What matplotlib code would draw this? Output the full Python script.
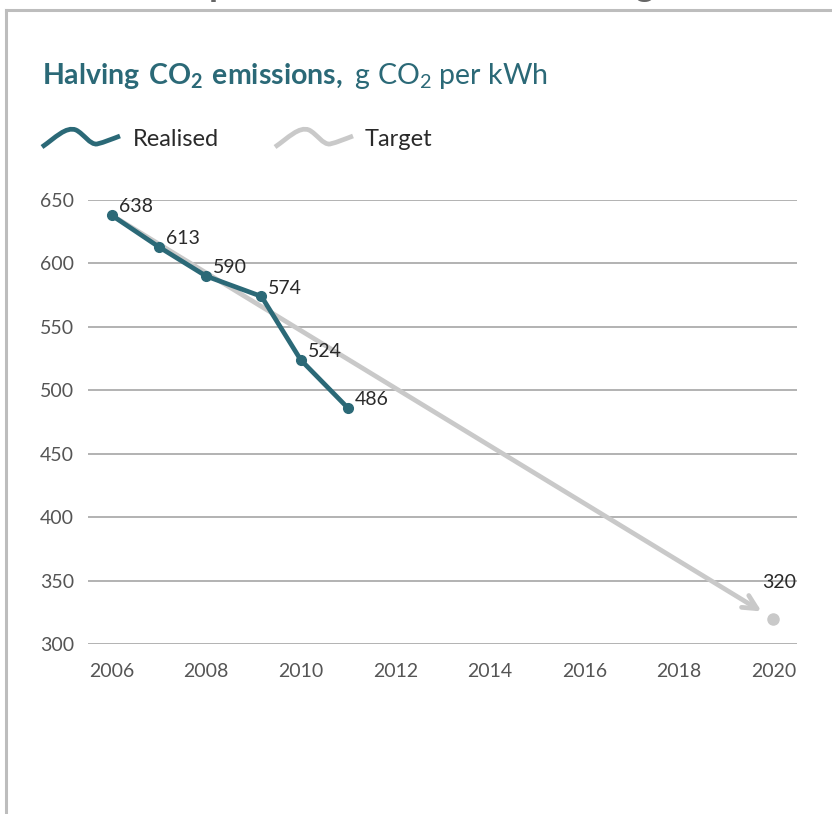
import matplotlib
matplotlib.use("Agg")
import matplotlib.pyplot as plt
import matplotlib.lines as mlines
from matplotlib.path import Path
from matplotlib.patches import PathPatch

# realised emissions, g CO2 per kWh
real_years = [2006, 2007, 2008, 2009.17, 2010, 2011]
real_values = [638, 613, 590, 574, 524, 486]

# straight-line target path
target_years = [2006, 2020]
target_values = [638, 320]

x_ticks = [2006, 2008, 2010, 2012, 2014, 2016, 2018, 2020]
y_ticks = [300, 350, 400, 450, 500, 550, 600, 650]

TEAL = "#2b6977"
GREY = "#c9c9c9"
INK = "#2a2a2a"

plt.rcParams["font.family"] = ["Lato", "DejaVu Sans"]
plt.rcParams["mathtext.fontset"] = "custom"
plt.rcParams["mathtext.rm"] = "Lato"
plt.rcParams["mathtext.bf"] = "Lato:bold"


def create_plot():
    fig = plt.figure(figsize=(8.32, 8.14), dpi=100)
    W, H = 832, 814

    def fx(px):
        return px / W

    def fy(py):
        return 1 - py / H

    def wave(dx, color):
        # little curved swatch for the legend
        pts = [(42, 147), (55, 138), (66, 126), (76, 130),
               (84, 134), (90, 145), (97, 144),
               (105, 142), (112, 139), (120, 136)]
        codes = [Path.MOVETO] + [Path.CURVE4] * 9
        verts = [(fx(x + dx), fy(y)) for x, y in pts]
        fig.add_artist(PathPatch(Path(verts, codes), fill=False, edgecolor=color,
                                 lw=3.4, capstyle="butt", transform=fig.transFigure))

    # panel frame
    fig.add_artist(mlines.Line2D([fx(6), 1], [fy(10), fy(10)], color="#bdbdbd", lw=2.2))
    fig.add_artist(mlines.Line2D([fx(6), fx(6)], [fy(10), 0], color="#bdbdbd", lw=2.2))
    # heading from the panel above, cut by the frame
    fig.text(fx(230), fy(-4), "Deep", ha="right", va="baseline", fontsize=26,
             fontweight="bold", color="#666666")
    fig.text(fx(655), fy(-4), "halving", ha="right", va="baseline", fontsize=26,
             fontweight="bold", color="#666666")

    fig.text(fx(42), fy(84), r"$\bf{Halving\ CO_2\ emissions,}$ g CO$_2$ per kWh",
             fontsize=20.5, color=TEAL, va="baseline")

    wave(0, TEAL)
    fig.text(fx(133), fy(139), "Realised", fontsize=17, color=INK, va="center")
    wave(233, GREY)
    fig.text(fx(365), fy(139), "Target", fontsize=17, color=INK, va="center")

    ax = fig.add_axes([fx(88), fy(644), fx(797) - fx(88), fy(200) - fy(644)])
    ax.set_xlim(2005.5, 2020.5)
    ax.set_ylim(300, 650)
    ax.set_xticks(x_ticks)
    ax.set_yticks(y_ticks)
    ax.tick_params(length=0, labelsize=14, labelcolor="#555555")
    ax.tick_params(axis="y", pad=10)
    ax.tick_params(axis="x", pad=14)
    ax.grid(axis="y", color="#a5a5a5", lw=1.2)
    ax.set_axisbelow(True)
    for s in ax.spines.values():
        s.set_visible(False)

    # target arrow and end point, kept under the realised line
    ax.annotate("", xy=(target_years[1], target_values[1]),
                xytext=(target_years[0], target_values[0]),
                arrowprops=dict(arrowstyle="->,head_length=1.0,head_width=0.5",
                                color=GREY, lw=3.4, shrinkA=0, shrinkB=10),
                annotation_clip=False, zorder=1.5)
    ax.plot(target_years[1], target_values[1], "o", color=GREY, ms=8, clip_on=False)
    ax.annotate(str(target_values[1]), (target_years[1], target_values[1]),
                xytext=(4, 26), textcoords="offset points", ha="center", va="center",
                fontsize=14, color=INK)

    ax.plot(real_years, real_values, "-o", color=TEAL, lw=3.4, ms=7, clip_on=False,
            zorder=3)
    for x, y in zip(real_years, real_values):
        ax.annotate(str(y), (x, y), xytext=(5, 6), textcoords="offset points",
                    ha="left", va="center", fontsize=14, color=INK, zorder=4)

    fig.savefig("out.png", dpi=100)


if __name__ == "__main__":
    create_plot()
